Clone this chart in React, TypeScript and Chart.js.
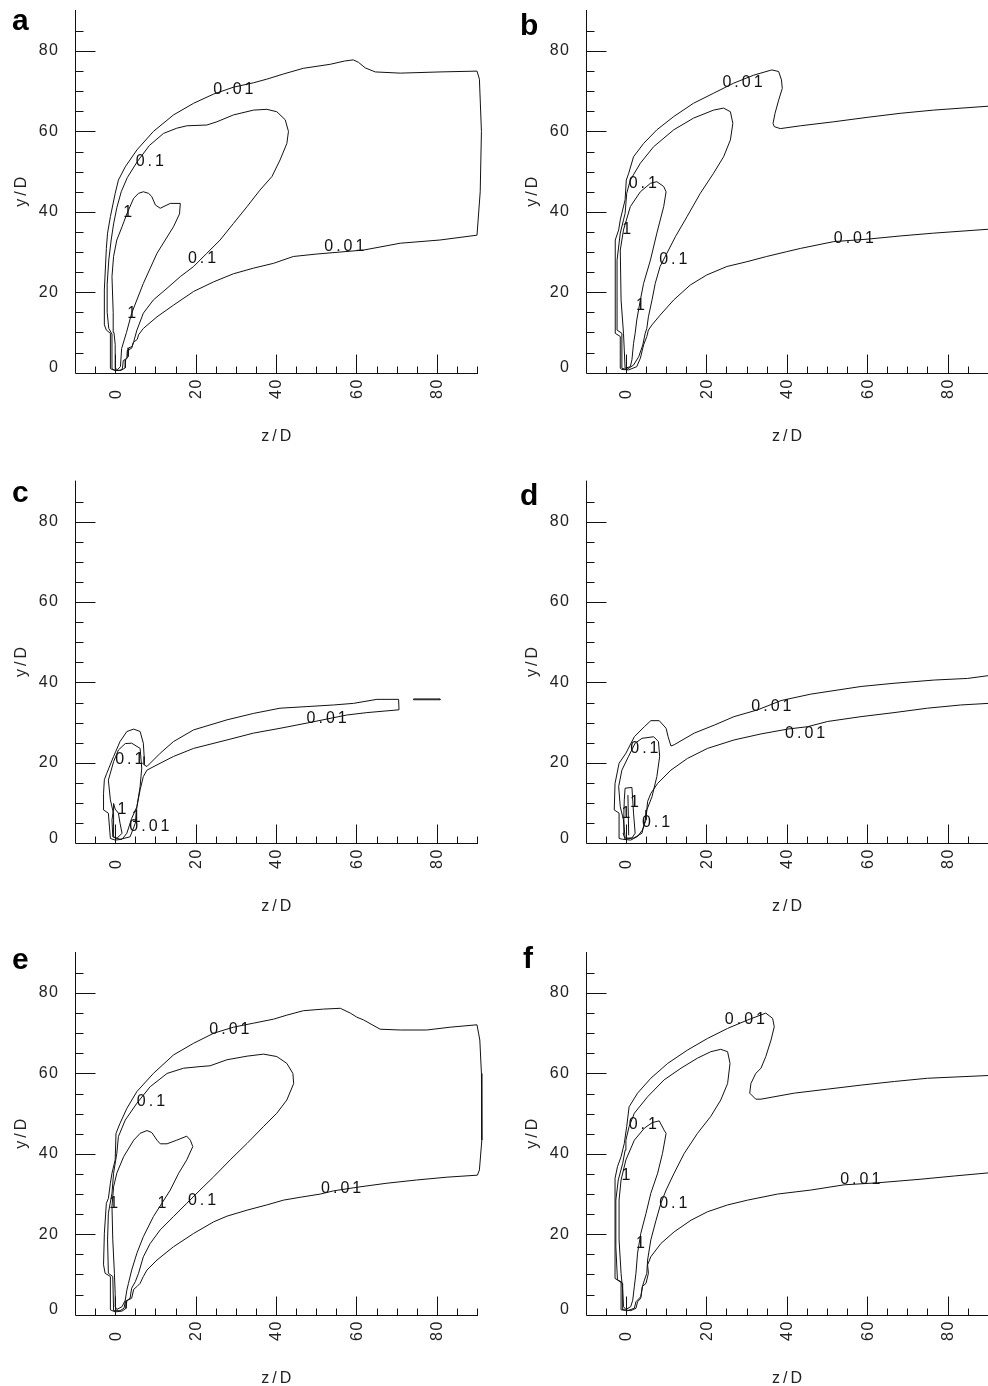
import React, { useEffect, useRef } from "react";
import { Chart, registerables } from "chart.js";

Chart.register(...registerables);

type Pt = [number, number];
type Lbl = [string, number, number];

// ---------- axis values ----------
const X_MIN = -10;
const X_MAX = 90;
const Y_MIN = 0;
const Y_MAX = 90.2;
const X_LABEL_TICKS = [0, 20, 40, 60, 80];
const Y_LABEL_TICKS = [0, 20, 40, 60, 80];
const X_TITLE = "z/D";
const Y_TITLE = "y/D";

// ---------- panel a ----------
const A_001: Pt[] = [[-1.2,1.0],[-1.2,9.8],[-2.2,10.6],[-2.7,11.9],[-2.7,20.6],[-2.2,30.9],[-1.9,34.7],[-1.2,38.8],[0,44.6],[0.8,47.9],[2.5,51.2],[5.4,55.4],[9.5,60],[14.5,64.1],[19.5,67],[24.5,69.3],[29.4,71],[34.4,72.1],[37.7,73],[41.9,74.3],[46.8,75.7],[53.5,76.7],[57,77.5],[59.2,77.8],[60.5,77.2],[62.2,75.8],[64.7,74.8],[70.9,74.5],[80.8,74.8],[90,75],[90.6,73],[91.1,60],[90.8,45],[90,34.2],[80.8,33],[70.9,32.2],[61.8,30.5],[50,29.5],[44.3,28.9],[39.4,27.2],[34.4,26],[29.4,24.6],[24.5,22.6],[19.5,20.2],[14.5,16.8],[10.4,13.9],[7.0,11],[5.8,9.4],[5.5,8.3],[4.5,7.5],[4.2,6.5],[3.4,6.2],[3.2,4.0],[2.6,3.2],[2.5,1.2],[1.5,0.6],[0,0.5],[-1.2,1.0]];
const A_01: Pt[] = [[-0.8,1.0],[-0.8,9.6],[-1.6,11],[-2.0,15],[-2.0,22],[-1.6,28],[-1.0,33],[-0.4,37],[0.4,41],[1.5,45],[3,48.5],[5.5,52.5],[8.5,56.5],[12,59.5],[15.3,60.8],[17.8,61.4],[22.8,61.6],[25.3,62.4],[29.4,64.1],[34.4,65.3],[37.7,65.5],[40.2,64.9],[42.3,62.9],[43.1,60],[42.7,57],[41,52.9],[39,48.8],[36,45.4],[32.8,41.3],[29.4,37.1],[26.1,33],[22.8,29.7],[19.5,26.4],[16.2,23.9],[12.9,21],[9.5,18.1],[7,14.8],[5.4,10.6],[4.6,7.7],[4.1,6.1],[3.0,5.5],[2.9,3.6],[2.0,3.0],[1.8,1.0],[1.2,0.6],[0,0.6],[-0.8,1.0]];
const A_1: Pt[] = [[0,1.0],[0,7],[-0.3,10],[-0.5,15],[-0.8,23.9],[-0.4,28.9],[0.4,33],[1.7,36.3],[2.9,39.5],[4.6,43.4],[5.8,44.6],[7,45],[8.3,44.6],[9.1,43.8],[10,41.7],[11.2,40.9],[13.7,42.1],[16.2,42.1],[16.0,39.5],[14.5,36.3],[10.4,29.7],[7.0,22.2],[4.1,14.8],[2.8,10],[1.6,6],[1.3,1.5],[0.6,0.8],[0,1.0]];
const A_LABELS: Lbl[] = [["0.01",29.4,70.5],["0.1",8.6,52.4],["1",3.1,39.7],["0.1",21.6,28.5],["1",4.1,14.8],["0.01",57,31.3]];

// ---------- panel b ----------
const B_001: Pt[] = [[-1.4,1.1],[-1.4,9],[-2.65,9.8],[-2.65,23.9],[-2.65,33],[-1.8,35.5],[-1.4,38],[-0.2,43],[0.1,47.9],[0.7,49.6],[1.9,53.7],[4.4,57],[7.7,60.4],[11.9,63.7],[16.8,67],[21.8,69.5],[26.8,72],[31.8,74],[36.3,75.3],[38,74.9],[38.7,72.8],[38.9,70.7],[38,67.8],[37.1,64.5],[36.6,62],[36.9,61.2],[38.4,60.7],[43.4,61.4],[51.7,62.4],[60,63.5],[68.2,64.5],[76.5,65.3],[90.5,66.3],[90.5,35.7],[76.5,34.7],[68.2,34],[60,33.2],[51.7,32.6],[43.4,30.9],[40,30.1],[35,28.9],[30.1,27.6],[25.1,26.4],[20.1,24.3],[16,21.8],[11.9,18.1],[8.5,14.3],[6.5,11.9],[5.6,10.6],[5.2,9],[4.4,6.9],[3.6,3.6],[2.7,1.5],[0.7,0.7],[-1,0.8],[-1.4,1.1]];
const B_01: Pt[] = [[-1,1.1],[-1,9.8],[-2.2,10.6],[-2.2,18.1],[-2.2,28],[-1.4,34.7],[-0.6,38],[-0.2,39.6],[0.2,44.6],[1.1,47.9],[3.6,52.1],[6.9,56.2],[11.9,60.4],[16.8,63.3],[21.8,65.3],[24.3,65.8],[26,64.9],[26.6,62],[26,57.9],[24.3,53.7],[21.8,49.6],[18.5,44.6],[15.2,38.8],[12.3,33.8],[10.2,29.7],[8.5,26.4],[7.3,22.2],[6.5,18.1],[5.6,13.9],[5.2,11],[4.8,9.8],[4.2,6.9],[3.2,4],[1.9,1.9],[0.2,0.8],[-1,1.1]];
const B_1: Pt[] = [[-0.2,1.1],[-0.4,5.6],[-0.6,9.8],[-1.2,18.1],[-1.4,30.5],[-0.6,35.5],[1.1,41.3],[3.6,45],[6.1,47.1],[7.7,47.5],[9.4,46.3],[10,45],[9.4,41.3],[7.7,34.7],[6.1,28],[4.4,22.2],[3.6,18.1],[2.7,13.1],[2.3,9.8],[1.9,7.3],[1.5,3.2],[1.1,1.5],[-0.2,1.1]];
const B_LABELS: Lbl[] = [["0.01",29,72.2],["0.1",4.2,47.1],["1",0.2,35.5],["0.1",11.8,28.1],["1",3.6,16.8],["0.01",56.7,33.4]];

// ---------- panel c ----------
const C_001: Pt[] = [[-1.2,1.2],[-1.7,7.5],[-2.9,8.3],[-2.9,12.4],[-2.7,15.8],[-2.1,17.4],[-0.4,21.6],[1.2,25.3],[2.9,27.8],[4.6,28.4],[6.2,27.8],[7,24.9],[7.2,21.6],[7.2,19.5],[7.9,19.1],[11.2,22.4],[14.5,25.3],[19.5,28.2],[27.8,30.7],[34.4,32.3],[41,33.6],[47.7,34],[54.3,34.4],[59.3,34.8],[65.1,35.8],[70.5,35.8],[70.6,33.2],[62.6,32.5],[57.6,31.9],[47.7,29.9],[41,28.6],[34.4,27.4],[27.8,25.7],[19.5,23.6],[14.5,21.6],[10.4,19.5],[7.9,18.2],[7,16.6],[6.2,13.3],[5.4,9.1],[4.1,6.2],[2.9,2.5],[1.7,1],[0,0.8],[-1.2,1.2]];
const C_001B: Pt[] = [[74.2,35.9],[80.8,35.9],[80.8,35.7],[74.2,35.7],[74.2,35.9]];
const C_01: Pt[] = [[-0.4,1.6],[-0.4,7.3],[-1.2,10.8],[-1.7,15.7],[-0.4,20.3],[0.8,23.2],[2.5,24.8],[4.1,24.9],[6.2,23.6],[6.6,18.7],[6.2,14.1],[5.4,9.1],[5,5],[3.7,1.6],[1.2,1],[-0.4,1.6]];
const C_1: Pt[] = [[-0.6,1.6],[-0.8,5.8],[-0.5,8],[-0.4,9.9],[0,8.5],[0.8,7.5],[1.2,5],[1.7,2.5],[0.4,1.2],[-0.6,1.6]];
const C_LABELS: Lbl[] = [["0.1",3.5,20.7],["1",1.7,8.3],["1",5.2,6.3],["0.01",8.5,4.1],["0.01",52.6,31.1]];

// ---------- panel d ----------
const D_001: Pt[] = [[-1.7,1.2],[-1.7,7.5],[-2.9,8.3],[-2.7,14.9],[-1.7,19.9],[0,22.4],[2.1,26.5],[4.6,29],[6.2,30.5],[8.3,30.5],[10,28.6],[10.5,26.5],[11.2,24.2],[12,24.5],[17,27.4],[22,29.4],[26.9,31.5],[32.8,33.2],[38.6,35.5],[46,37.1],[58.5,39],[66.7,39.8],[76.7,40.6],[85,41],[90.2,41.7],[90.2,34.8],[83.3,34.4],[75,33.6],[66.7,32.5],[58.5,31.5],[50.2,30.3],[45.2,29],[40.2,28.4],[33.6,27.2],[26.9,25.7],[20.3,23.6],[15.3,21.1],[11.2,18.2],[7.9,14.9],[6.2,12.4],[5.4,10.4],[5.2,8.3],[5,5.8],[4.1,3.3],[2.9,1.7],[1.2,0.8],[-0.8,1],[-1.7,1.2]];
const D_01: Pt[] = [[-0.2,1.3],[-0.6,5.8],[-1.4,9.1],[-1.8,14.1],[-1,18.2],[0.6,21.5],[2.3,24.9],[4,26.1],[6.9,26.5],[8.1,25.3],[8.4,21.6],[7.7,16.6],[6.5,11.6],[5.2,8.3],[4.8,5.8],[4,2.5],[1.9,1.3],[-0.2,1.3]];
const D_1: Pt[] = [[-0.2,13.7],[1.5,13.9],[1.9,7.5],[2.3,2.5],[1.5,1.3],[-0.2,1],[-0.7,2.5],[-0.5,7.5],[-0.4,10.8],[-0.2,13.7]];
const D_1B: Pt[] = [[0.5,12],[0.7,2]];
const D_LABELS: Lbl[] = [["0.01",36.2,34],["0.01",44.6,27.4],["0.1",4.6,23.6],["1",2.1,10],["1",0,7.5],["0.1",7.5,5.1]];

// ---------- panel e ----------
const E_001: Pt[] = [[-1.2,1.2],[-1.2,9.5],[-2.5,10.3],[-2.9,12.4],[-2.7,20.2],[-2.2,27.7],[-1.7,28.9],[-1.2,32.7],[-0.8,35.2],[0,38.5],[0.2,45.1],[1.2,47.6],[2.9,51.3],[5.4,55.5],[9.5,60],[14.5,64.6],[19.5,67.5],[24.5,70],[29.4,71.5],[34.4,72.5],[39.4,73.5],[42.7,74.5],[46.8,75.6],[51.8,76],[56,76.2],[58.5,75],[60.1,74],[61.8,73.3],[65.9,71],[70.9,70.8],[77.5,70.8],[83.3,71.5],[90,72.1],[90.7,68.3],[91.1,60],[91.2,43.4],[90.6,36],[90.1,34.7],[82.5,34.2],[75,33.5],[67.6,32.7],[60.9,31.8],[54.3,30.8],[51,30],[46,29.2],[41.9,28.5],[37.7,27.3],[32.8,26],[27.8,24.5],[24.5,23.1],[19.5,20.2],[14.5,16.9],[10.4,13.6],[7.9,11.1],[7,9.5],[6.2,7.8],[5.4,7],[4.6,6.3],[4.1,4.1],[2.9,3.5],[2.7,1.6],[1.7,0.9],[0,0.7],[-1.2,1.2]];
const E_01: Pt[] = [[-0.4,1],[-0.6,9.5],[-1.7,10.3],[-1.9,18.6],[-1.7,25.2],[-0.8,30.2],[-0.4,35.2],[0.4,40.1],[0.8,44.3],[2.5,48.4],[5.4,52.6],[8.7,56.7],[12.9,60],[17,61.3],[21.1,61.7],[23.6,61.9],[27.8,63.4],[32.8,64.3],[36.9,64.8],[40.2,64.2],[42.7,62.5],[44.2,60],[44.4,57.5],[42.7,53.4],[40.2,50.1],[36.9,46.8],[32.8,42.6],[28.6,38.5],[24.5,34.3],[21.1,31],[17.8,27.7],[14.5,24.4],[11.2,21.1],[8.7,17.7],[7,14.4],[5.8,10.3],[5,8.2],[4.1,6.6],[3.7,4.1],[2.5,3.2],[2.2,1.6],[1.2,1],[-0.4,1]];
const E_1: Pt[] = [[0,2],[0,5.3],[-0.2,10.3],[-0.6,18.6],[-0.8,26.9],[-0.4,31.8],[0.4,35.2],[2.1,39.3],[4.6,43.4],[6.2,45.1],[7.9,45.8],[9.1,45.3],[10.4,43.4],[11.2,42.5],[12.9,42.5],[15.3,43.4],[17.8,44.4],[18.7,43.4],[19.3,41.8],[17.8,38.5],[15.8,35.2],[13.7,31],[11.6,27.7],[9.5,24.4],[7,19.4],[5.4,15.3],[4.1,11.1],[3.3,7.8],[2.9,6.1],[2.5,3.6],[1.7,2],[0.4,1.3],[0,2]];
const E_LABELS: Lbl[] = [["0.01",28.4,70.8],["0.1",8.9,53],["1",-0.4,27.7],["1",11.6,27.7],["0.1",21.6,28.5],["0.01",56.2,31.4]];

// ---------- panel f ----------
const F_001: Pt[] = [[-1.2,1.2],[-1.2,8.2],[-2.7,9],[-2.7,16.9],[-2.7,26.9],[-2.7,33.9],[-2.1,36.8],[-1.2,39.3],[-0.4,42.6],[0.2,46.8],[0.8,51.7],[2.9,55.1],[6.2,58.8],[10.4,62.5],[15.3,65.8],[20.3,68.7],[25.3,71.2],[30.3,73.3],[34.8,75],[36.5,73.7],[36.9,71.6],[36.1,68.3],[34.8,64.2],[33.6,61.3],[32.3,60],[31.1,57.5],[30.8,55.1],[32.3,53.6],[33.6,53.6],[41.9,55.1],[50.2,56.1],[58.5,57.1],[66.8,58],[75,58.8],[90.5,59.5],[90.5,35.3],[81.7,34.5],[73.4,33.7],[62.6,32.8],[54.3,32.3],[46,31],[37.7,30],[30.3,28.5],[25.3,27.3],[20.3,25.6],[16.2,23.5],[12,20.6],[8.7,17.7],[6.2,14.4],[5.4,12.4],[5.6,10.3],[5,7.8],[4.1,7],[3.7,4.1],[2.9,3.2],[2.5,1.6],[1.2,1],[-0.4,1.2],[-1.2,1.2]];
const F_01: Pt[] = [[-0.8,1.2],[-0.8,7.8],[-2.1,8.6],[-2.5,16.9],[-2.5,28.5],[-1.9,33.5],[-0.8,37.6],[-0.2,40.9],[0,43.4],[0.8,46.8],[2.1,50.1],[5.4,54.2],[9.5,58.4],[13.7,61.3],[17.8,63.8],[21.1,65.4],[23.6,66],[25.3,65.4],[25.9,62.5],[25.3,57.5],[23.6,53.4],[21.1,49.3],[17.8,45.1],[14.5,40.1],[12,35.2],[10,31],[8.7,27.7],[7.5,23.5],[6.2,18.6],[5.4,13.6],[5.2,10.3],[4.6,8.6],[4.1,7],[3.7,4.5],[2.5,3.2],[2.1,1.6],[0.4,1],[-0.8,1.2]];
const F_1: Pt[] = [[0,1.3],[-0.6,2],[-0.8,6.1],[-1.2,10.3],[-1.7,18.6],[-1.7,28.5],[-1.2,33.5],[0,38.5],[2.1,43.4],[4.6,46.4],[6.6,47.8],[8.3,48.2],[9.5,45.9],[10,45.1],[9.1,40.1],[7.9,35.2],[6.2,30.2],[5,25.2],[3.7,20.2],[2.9,15.3],[2.5,10.3],[2.1,7],[1.7,3.6],[1.2,2],[0,1.3]];
const F_LABELS: Lbl[] = [["0.01",29.6,73.3],["0.1",4.2,47.2],["1",0,34.7],["0.1",11.8,27.7],["1",3.6,17.7],["0.01",58.3,33.5]];

// ---------- layout ----------
interface PanelDef {
  letter: string;
  contours: Pt[][];
  labels: Lbl[];
  col: number;
  row: number;
}

const PANELS: PanelDef[] = [
  { letter: "a", contours: [A_001, A_01, A_1], labels: A_LABELS, col: 0, row: 0 },
  { letter: "b", contours: [B_001, B_01, B_1], labels: B_LABELS, col: 1, row: 0 },
  { letter: "c", contours: [C_001, C_001B, C_01, C_1], labels: C_LABELS, col: 0, row: 1 },
  { letter: "d", contours: [D_001, D_01, D_1, D_1B], labels: D_LABELS, col: 1, row: 1 },
  { letter: "e", contours: [E_001, E_01, E_1], labels: E_LABELS, col: 0, row: 2 },
  { letter: "f", contours: [F_001, F_01, F_1], labels: F_LABELS, col: 1, row: 2 },
];

const COL_X = [0, 494];
const COL_W = 494;
const ROW_Y = [0, 470, 940];
const ROW_H = [470, 470, 446];
const AREA_L = [75, 585.7];
const AREA_R = [477, 987.7];
const AREA_T = [10, 480.6, 952];
const AREA_B = [372.7, 843.3, 1314.7];
const LETTER_POS: Record<string, [number, number]> = {
  a: [12, 29.5],
  b: [520, 35],
  c: [12, 501.7],
  d: [520, 505],
  e: [12, 969],
  f: [523, 968],
};

const SANS = '"Liberation Sans", Arial, Helvetica, sans-serif';

function setSpacing(ctx: CanvasRenderingContext2D, px: number) {
  (ctx as any).letterSpacing = px + "px";
}

function decorPlugin(p: PanelDef) {
  return {
    id: "decor_" + p.letter,
    afterDraw(chart: any) {
      const ctx: CanvasRenderingContext2D = chart.ctx;
      const xs = chart.scales.x;
      const ys = chart.scales.y;
      const ax = Math.round(xs.getPixelForValue(X_MIN)) + 0.5;
      const ay = Math.round(ys.getPixelForValue(0)) + 0.5;
      const top = ys.getPixelForValue(Y_MAX);
      const right = xs.getPixelForValue(X_MAX);
      ctx.save();
      ctx.strokeStyle = "#111";
      ctx.lineWidth = 1;
      ctx.beginPath();
      ctx.moveTo(ax, top);
      ctx.lineTo(ax, ay);
      ctx.lineTo(right + 1, ay);
      for (let v = 5; v <= 85; v += 5) {
        const py = Math.round(ys.getPixelForValue(v)) + 0.5;
        const len = v % 20 === 0 ? 20 : 8;
        ctx.moveTo(ax, py);
        ctx.lineTo(ax + len, py);
      }
      for (let v = -5; v <= 90; v += 5) {
        const px = Math.round(xs.getPixelForValue(v)) + 0.5;
        const len = v % 20 === 0 ? 19 : 7;
        ctx.moveTo(px, ay);
        ctx.lineTo(px, ay - len);
      }
      ctx.stroke();

      ctx.fillStyle = "#222";
      ctx.font = "16px " + SANS;
      setSpacing(ctx, 1.5);
      // y tick labels
      ctx.textAlign = "right";
      ctx.textBaseline = "middle";
      for (const v of Y_LABEL_TICKS) {
        const py = ys.getPixelForValue(v) - (v === 0 ? 5 : 0);
        ctx.fillText(String(v), ax - 16, py);
      }
      // x tick labels (rotated)
      for (const v of X_LABEL_TICKS) {
        const px = xs.getPixelForValue(v);
        ctx.save();
        ctx.translate(px, ay + 25.5);
        ctx.rotate(-Math.PI / 2);
        ctx.textAlign = "left";
        ctx.textBaseline = "middle";
        ctx.fillText(String(v), 0, 1);
        ctx.restore();
      }
      // axis titles
      setSpacing(ctx, 3);
      ctx.textAlign = "center";
      ctx.textBaseline = "alphabetic";
      ctx.fillText(X_TITLE, (ax + right) / 2 + 1.5, ay + 67);
      ctx.save();
      ctx.translate(ax - 54, (top + ay) / 2);
      ctx.rotate(-Math.PI / 2);
      ctx.textAlign = "center";
      ctx.textBaseline = "middle";
      ctx.fillText(Y_TITLE, 1.5, 0);
      ctx.restore();

      // contour labels
      ctx.fillStyle = "#111";
      ctx.textAlign = "center";
      ctx.textBaseline = "middle";
      setSpacing(ctx, 3);
      for (const [t, x, y] of p.labels) {
        ctx.fillText(t, xs.getPixelForValue(x) + 1.5, ys.getPixelForValue(y));
      }

      // panel letter
      setSpacing(ctx, 0);
      const [lx, ly] = LETTER_POS[p.letter];
      ctx.fillStyle = "#000";
      ctx.font = "bold 30px " + SANS;
      ctx.textAlign = "left";
      ctx.textBaseline = "alphabetic";
      ctx.fillText(p.letter, lx - COL_X[p.col], ly - ROW_Y[p.row]);
      ctx.restore();
    },
  };
}

function Panel({ p }: { p: PanelDef }) {
  const ref = useRef<HTMLCanvasElement | null>(null);
  const cx = COL_X[p.col];
  const cy = ROW_Y[p.row];
  const w = COL_W;
  const h = ROW_H[p.row];
  useEffect(() => {
    if (!ref.current) return;
    const padding = {
      left: AREA_L[p.col] - cx,
      right: cx + w - AREA_R[p.col],
      top: AREA_T[p.row] - cy,
      bottom: cy + h - AREA_B[p.row],
    };
    const chart = new Chart(ref.current, {
      type: "scatter",
      data: {
        datasets: p.contours.map((c) => ({
          data: c.map(([x, y]) => ({ x, y })),
          showLine: true,
          borderColor: "#111",
          borderWidth: 1,
          pointRadius: 0,
          pointHoverRadius: 0,
          fill: false,
          tension: 0,
          clip: false as any,
        })),
      },
      options: {
        animation: false,
        responsive: false,
        devicePixelRatio: 1,
        events: [],
        layout: { padding },
        plugins: { legend: { display: false }, tooltip: { enabled: false } },
        scales: {
          x: { type: "linear", min: X_MIN, max: X_MAX, display: false },
          y: { type: "linear", min: Y_MIN, max: Y_MAX, display: false },
        },
      },
      plugins: [decorPlugin(p)],
    } as any);
    return () => chart.destroy();
  }, []);
  return (
    <canvas
      ref={ref}
      width={w}
      height={h}
      style={{ position: "absolute", left: cx, top: cy, width: w, height: h }}
    />
  );
}

export default function App() {
  return (
    <div
      style={{
        position: "absolute",
        left: 0,
        top: 0,
        width: 988,
        height: 1386,
        background: "#fff",
        overflow: "hidden",
      }}
    >
      {PANELS.map((p) => (
        <Panel key={p.letter} p={p} />
      ))}
    </div>
  );
}
